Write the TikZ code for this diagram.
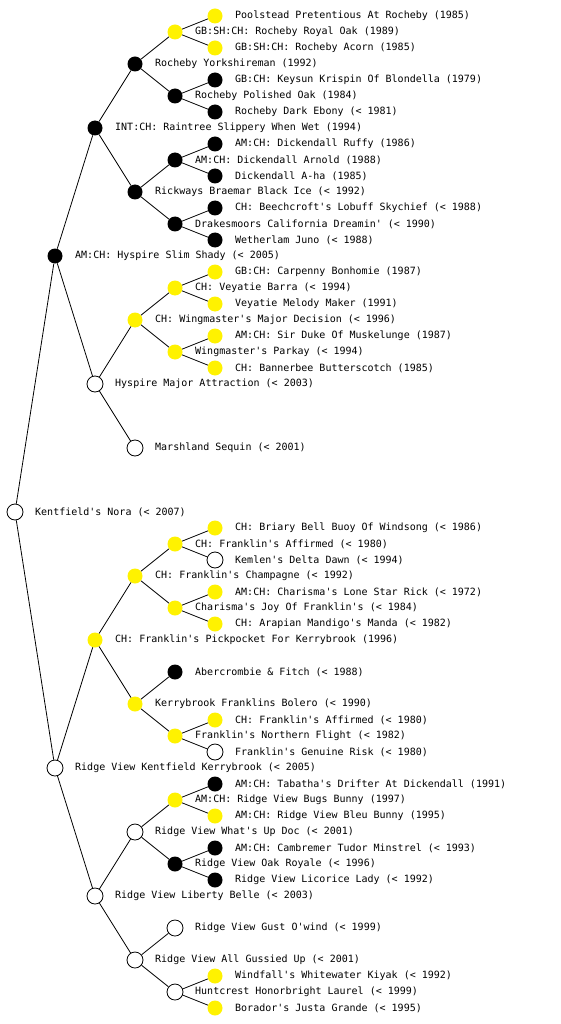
\documentclass[tikz,border=0pt]{standalone}
\usepackage{fontspec}
\newfontfamily\pedmono{DejaVu Sans Mono}
\tikzset{
  base/.style={circle, inner sep=0pt, minimum size=15pt},
  yel/.style={base, fill=yellow},
  blk/.style={base, fill=black},
  wht/.style={base, draw=black, line width=0.8pt, fill=white, minimum size=16pt},
  lbl/.style={anchor=west, inner sep=0pt, font=\pedmono\fontsize{10}{12}\selectfont},
  edge/.style={draw=black, line width=0.8pt}
}
\newcommand\pn[5]{\node[#2] (#1) at (#3,#4) {}; \node[lbl] (#1-t) at (#3+20,#4) {#5};}
\begin{document}
\begin{tikzpicture}[x=1pt,y=-1pt]
\useasboundingbox (0,0) rectangle (560,1024);
% level 0
\pn{n0}{wht}{15}{512}{Kentfield's Nora (< 2007)}
% level 1
\pn{a1}{blk}{55}{256}{AM:CH: Hyspire Slim Shady (< 2005)}
\pn{b1}{wht}{55}{768}{Ridge View Kentfield Kerrybrook (< 2005)}
% level 2
\pn{a2}{blk}{95}{128}{INT:CH: Raintree Slippery When Wet (1994)}
\pn{a3}{wht}{95}{384}{Hyspire Major Attraction (< 2003)}
\pn{b2}{yel}{95}{640}{CH: Franklin's Pickpocket For Kerrybrook (1996)}
\pn{b3}{wht}{95}{896}{Ridge View Liberty Belle (< 2003)}
% level 3
\pn{c1}{blk}{135}{64}{Rocheby Yorkshireman (1992)}
\pn{c2}{blk}{135}{192}{Rickways Braemar Black Ice (< 1992)}
\pn{c3}{yel}{135}{320}{CH: Wingmaster's Major Decision (< 1996)}
\pn{c4}{wht}{135}{448}{Marshland Sequin (< 2001)}
\pn{c5}{yel}{135}{576}{CH: Franklin's Champagne (< 1992)}
\pn{c6}{yel}{135}{704}{Kerrybrook Franklins Bolero (< 1990)}
\pn{c7}{wht}{135}{832}{Ridge View What's Up Doc (< 2001)}
\pn{c8}{wht}{135}{960}{Ridge View All Gussied Up (< 2001)}
% level 4
\pn{d1}{yel}{175}{32}{GB:SH:CH: Rocheby Royal Oak (1989)}
\pn{d2}{blk}{175}{96}{Rocheby Polished Oak (1984)}
\pn{d3}{blk}{175}{160}{AM:CH: Dickendall Arnold (1988)}
\pn{d4}{blk}{175}{224}{Drakesmoors California Dreamin' (< 1990)}
\pn{d5}{yel}{175}{288}{CH: Veyatie Barra (< 1994)}
\pn{d6}{yel}{175}{352}{Wingmaster's Parkay (< 1994)}
\pn{d7}{yel}{175}{544}{CH: Franklin's Affirmed (< 1980)}
\pn{d8}{yel}{175}{608}{Charisma's Joy Of Franklin's (< 1984)}
\pn{d9}{blk}{175}{672}{Abercrombie \& Fitch (< 1988)}
\pn{d10}{yel}{175}{736}{Franklin's Northern Flight (< 1982)}
\pn{d11}{yel}{175}{800}{AM:CH: Ridge View Bugs Bunny (1997)}
\pn{d12}{blk}{175}{864}{Ridge View Oak Royale (< 1996)}
\pn{d13}{wht}{175}{928}{Ridge View Gust O'wind (< 1999)}
\pn{d14}{wht}{175}{992}{Huntcrest Honorbright Laurel (< 1999)}
% level 5
\pn{e1}{yel}{215}{16}{Poolstead Pretentious At Rocheby (1985)}
\pn{e2}{yel}{215}{48}{GB:SH:CH: Rocheby Acorn (1985)}
\pn{e3}{blk}{215}{80}{GB:CH: Keysun Krispin Of Blondella (1979)}
\pn{e4}{blk}{215}{112}{Rocheby Dark Ebony (< 1981)}
\pn{e5}{blk}{215}{144}{AM:CH: Dickendall Ruffy (1986)}
\pn{e6}{blk}{215}{176}{Dickendall A-ha (1985)}
\pn{e7}{blk}{215}{208}{CH: Beechcroft's Lobuff Skychief (< 1988)}
\pn{e8}{blk}{215}{240}{Wetherlam Juno (< 1988)}
\pn{e9}{yel}{215}{272}{GB:CH: Carpenny Bonhomie (1987)}
\pn{e10}{yel}{215}{304}{Veyatie Melody Maker (1991)}
\pn{e11}{yel}{215}{336}{AM:CH: Sir Duke Of Muskelunge (1987)}
\pn{e12}{yel}{215}{368}{CH: Bannerbee Butterscotch (1985)}
\pn{e13}{yel}{215}{528}{CH: Briary Bell Buoy Of Windsong (< 1986)}
\pn{e14}{wht}{215}{560}{Kemlen's Delta Dawn (< 1994)}
\pn{e15}{yel}{215}{592}{AM:CH: Charisma's Lone Star Rick (< 1972)}
\pn{e16}{yel}{215}{624}{CH: Arapian Mandigo's Manda (< 1982)}
\pn{e17}{yel}{215}{720}{CH: Franklin's Affirmed (< 1980)}
\pn{e18}{wht}{215}{752}{Franklin's Genuine Risk (< 1980)}
\pn{e19}{blk}{215}{784}{AM:CH: Tabatha's Drifter At Dickendall (1991)}
\pn{e20}{yel}{215}{816}{AM:CH: Ridge View Bleu Bunny (1995)}
\pn{e21}{blk}{215}{848}{AM:CH: Cambremer Tudor Minstrel (< 1993)}
\pn{e22}{blk}{215}{880}{Ridge View Licorice Lady (< 1992)}
\pn{e23}{yel}{215}{976}{Windfall's Whitewater Kiyak (< 1992)}
\pn{e24}{yel}{215}{1008}{Borador's Justa Grande (< 1995)}
% edges
\foreach \p/\c in {n0/a1,n0/b1,a1/a2,a1/a3,b1/b2,b1/b3,
  a2/c1,a2/c2,a3/c3,a3/c4,b2/c5,b2/c6,b3/c7,b3/c8,
  c1/d1,c1/d2,c2/d3,c2/d4,c3/d5,c3/d6,c5/d7,c5/d8,c6/d9,c6/d10,c7/d11,c7/d12,c8/d13,c8/d14,
  d1/e1,d1/e2,d2/e3,d2/e4,d3/e5,d3/e6,d4/e7,d4/e8,d5/e9,d5/e10,d6/e11,d6/e12,
  d7/e13,d7/e14,d8/e15,d8/e16,d10/e17,d10/e18,d11/e19,d11/e20,d12/e21,d12/e22,d14/e23,d14/e24}
  \draw[edge] (\p) -- (\c);
\end{tikzpicture}
\end{document}
